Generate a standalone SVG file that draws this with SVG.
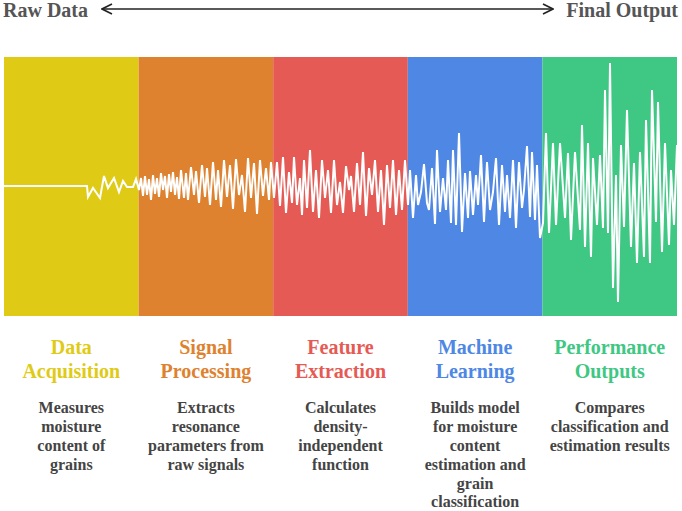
<svg xmlns="http://www.w3.org/2000/svg" width="682" height="511" viewBox="0 0 682 511">
  <defs>
    <marker id="chev" viewBox="0 0 12 12" refX="11" refY="6" markerWidth="12" markerHeight="12" markerUnits="userSpaceOnUse" orient="auto-start-reverse">
      <path d="M1,1 L11,6 L1,11" fill="none" stroke="#222" stroke-width="1.6"/>
    </marker>
    <style>
      text { font-family: 'Liberation Serif', 'DejaVu Serif', serif; font-weight: bold; }
      .top { font-size: 20px; fill: #555; }
      .head { font-size: 20px; text-anchor: middle; }
      .desc { font-size: 16px; fill: #444; text-anchor: middle; }
      .wave { fill: none; stroke: #fff; stroke-width: 2; stroke-linejoin: miter; }
    </style>
  </defs>
  <rect width="682" height="511" fill="#fff"/>

  <g id="axis">
    <text class="top" x="3" y="16.5" font-family="Liberation Serif, serif">Raw Data</text>
    <text class="top" x="678" y="16.5" text-anchor="end" font-family="Liberation Serif, serif">Final Output</text>
  </g>
  <g id="connectors">
    <line x1="102" y1="9" x2="553" y2="9" stroke="#222" stroke-width="1.5" marker-start="url(#chev)" marker-end="url(#chev)"/>
  </g>

  <g id="panels">
    <rect x="4" y="57" width="134.6" height="259" fill="#DFCB16"/>
    <rect x="138.6" y="57" width="134.6" height="259" fill="#DE822F"/>
    <rect x="273.2" y="57" width="134.6" height="259" fill="#E55A54"/>
    <rect x="407.8" y="57" width="134.6" height="259" fill="#4E87E4"/>
    <rect x="542.4" y="57" width="134.6" height="259" fill="#3FC784"/>
  </g>

  <g id="waveform">
    <polyline class="wave" points="4,186 87,186 88,197 93,188 100,198 104,176 108,188 114,178 119,192 123,181 127,187 133,187 136,179 139,190 141,178 143,196 145,176 147,195 149,179 151,200 153,175 155,194 157,178 159,197 161,173 163,190 165,176 167,198 169,174 171,192 173,172 175,195 177,177 179,199 181,170 184,198 186,173 188,200 191,167 194,195 196,171 199,203 202,165 205,197 207,168 210,205 213,162 216,200 218,170 221,207 224,160 227,197 230,165 233,209 236,159 239,195 242,175 245,212 248,158 251,198 254,163 257,214 260,160 263,196 266,168 269,200 271,162 274,198 277,162 280,206 283,157 286,213 289,172 292,203 294,157 297,205 300,178 302,215 304,160 307,208 310,150 313,212 316,170 319,218 322,160 325,198 328,170 331,213 334,160 337,205 340,182 343,213 346,166 349,190 351,176 354,212 357,163 360,205 363,152 366,216 369,168 372,195 375,160 378,212 381,170 384,225 387,165 390,208 393,160 396,215 399,170 402,210 405,160 408,205 410,170 413,218 416,175 418,205 421,192 424,164 427,203 429,210 432,168 435,224 437,150 440,212 443,178 446,210 448,160 451,223 453,150 456,225 459,133 462,232 465,173 468,218 470,171 473,215 476,175 478,205 481,155 484,222 487,162 490,210 493,192 496,158 499,225 502,165 505,212 507,175 510,218 513,160 516,228 519,162 522,208 524,190 527,146 530,217 532,152 535,220 537,165 540,238 543,223 546,133 549,233 553,143 556,225 560,143 565,218 568,153 571,240 575,152 580,230 582,125 585,247 588,143 591,257 593,158 597,225 600,155 603,228 605,90 608,233 610,63 613,288 616,175 618,302 621,145 624,227 627,110 631,247 634,163 637,263 640,152 644,257 646,120 650,263 652,90 656,222 658,102 662,252 665,143 669,245 671,170 674,225 677,145"/>
  </g>

  <g id="data-acquisition">
    <text class="head" fill="#DFCB16"><tspan x="71.3" y="354">Data</tspan><tspan x="71.3" y="378">Acquisition</tspan></text>
    <text class="desc"><tspan x="71.3" y="413">Measures</tspan><tspan x="71.3" y="432">moisture</tspan><tspan x="71.3" y="451">content of</tspan><tspan x="71.3" y="470">grains</tspan></text>
  </g>
  <g id="signal-processing">
    <text class="head" fill="#DE822F"><tspan x="205.9" y="354">Signal</tspan><tspan x="205.9" y="378">Processing</tspan></text>
    <text class="desc"><tspan x="205.9" y="413">Extracts</tspan><tspan x="205.9" y="432">resonance</tspan><tspan x="205.9" y="451">parameters from</tspan><tspan x="205.9" y="470">raw signals</tspan></text>
  </g>
  <g id="feature-extraction">
    <text class="head" fill="#E55A54"><tspan x="340.5" y="354">Feature</tspan><tspan x="340.5" y="378">Extraction</tspan></text>
    <text class="desc"><tspan x="340.5" y="413">Calculates</tspan><tspan x="340.5" y="432">density-</tspan><tspan x="340.5" y="451">independent</tspan><tspan x="340.5" y="470">function</tspan></text>
  </g>
  <g id="machine-learning">
    <text class="head" fill="#4E87E4"><tspan x="475.1" y="354">Machine</tspan><tspan x="475.1" y="378">Learning</tspan></text>
    <text class="desc"><tspan x="475.1" y="413">Builds model</tspan><tspan x="475.1" y="432">for moisture</tspan><tspan x="475.1" y="451">content</tspan><tspan x="475.1" y="470">estimation and</tspan><tspan x="475.1" y="489">grain</tspan><tspan x="475.1" y="507">classification</tspan></text>
  </g>
  <g id="performance-outputs">
    <text class="head" fill="#3FC784"><tspan x="609.7" y="354">Performance</tspan><tspan x="609.7" y="378">Outputs</tspan></text>
    <text class="desc"><tspan x="609.7" y="413">Compares</tspan><tspan x="609.7" y="432">classification and</tspan><tspan x="609.7" y="451">estimation results</tspan></text>
  </g>
</svg>
